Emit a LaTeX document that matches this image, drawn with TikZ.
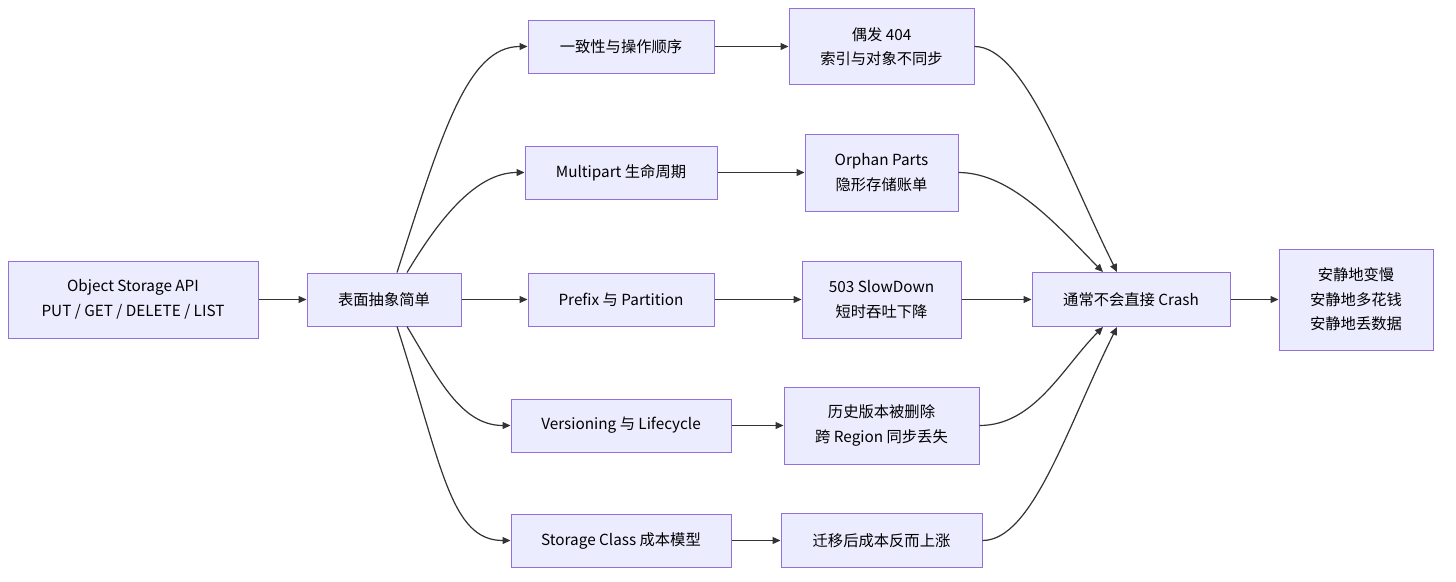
\documentclass[tikz,border=0pt]{standalone}
\usepackage{fontspec}
\setmainfont{Noto Sans CJK SC}
\usetikzlibrary{arrows.meta}
\definecolor{boxfill}{HTML}{ECECFF}
\definecolor{boxline}{HTML}{9370DB}
\definecolor{edgecol}{HTML}{333333}
\begin{document}
\begin{tikzpicture}[x=1pt,y=-1pt,
  box/.style={draw=boxline, fill=boxfill, line width=1pt, inner sep=0pt, align=center,
    font=\fontsize{15.3}{24.5}\selectfont, text=black},
  conn/.style={draw=edgecol, line width=1.2pt, -{Triangle[length=8pt,width=7pt]}}]
\fill[white] (0,0) rectangle (1456,581);
\useasboundingbox (0,0) rectangle (1456,581);

\node[box, minimum width=250pt, minimum height=77pt] (api) at (133,299.5) {Object Storage API\\PUT / GET / DELETE / LIST};
\node[box, minimum width=154pt, minimum height=53pt] (simple) at (384,299.5) {表面抽象简单};

\node[box, minimum width=186pt, minimum height=53pt] (cons) at (621,46.5) {一致性与操作顺序};
\node[box, minimum width=192pt, minimum height=53pt] (multi) at (621,172.5) {Multipart 生命周期};
\node[box, minimum width=186pt, minimum height=53pt] (prefix) at (621,299.5) {Prefix 与 Partition};
\node[box, minimum width=220pt, minimum height=53pt] (vers) at (621,425.5) {Versioning 与 Lifecycle};
\node[box, minimum width=220pt, minimum height=53pt] (sclass) at (621,540.5) {Storage Class 成本模型};

\node[box, minimum width=185pt, minimum height=76pt] (n404) at (881.5,46.5) {偶发 404\\索引与对象不同步};
\node[box, minimum width=153pt, minimum height=77pt] (orphan) at (881.5,172.5) {Orphan Parts\\隐形存储账单};
\node[box, minimum width=159pt, minimum height=77pt] (slow) at (881.5,299.5) {503 SlowDown\\短时吞吐下降};
\node[box, minimum width=195pt, minimum height=77pt] (hist) at (881.5,425.5) {历史版本被删除\\跨 Region 同步丢失};
\node[box, minimum width=201pt, minimum height=54pt] (cost) at (881.5,540.5) {迁移后成本反而上涨};

\node[box, minimum width=198pt, minimum height=54pt] (crash) at (1131,299.5) {通常不会直接 Crash};
\node[box, minimum width=154pt, minimum height=101pt] (quiet) at (1356,299.5) {安静地变慢\\安静地多花钱\\安静地丢数据};

\draw[conn] (api.east) -- (simple.west);
\draw[conn] ([xshift=13pt]simple.north) .. controls +(45,-140) and +(-60,0) .. (cons.west);
\draw[conn] ([xshift=23pt]simple.north) .. controls +(30,-50) and +(-50,0) .. (multi.west);
\draw[conn] (simple.east) -- (prefix.west);
\draw[conn] ([xshift=23pt]simple.south) .. controls +(30,50) and +(-50,0) .. (vers.west);
\draw[conn] ([xshift=13pt]simple.south) .. controls +(45,140) and +(-60,0) .. (sclass.west);

\draw[conn] (cons.east) -- (n404.west);
\draw[conn] (multi.east) -- (orphan.west);
\draw[conn] (prefix.east) -- (slow.west);
\draw[conn] (vers.east) -- (hist.west);
\draw[conn] (sclass.east) -- (cost.west);

\draw[conn] (n404.east) .. controls +(50,0) and +(-50,-100) .. ([xshift=-14pt]crash.north);
\draw[conn] (orphan.east) .. controls +(55,0) and +(-40,-40) .. ([xshift=-28pt]crash.north);
\draw[conn] (slow.east) -- (crash.west);
\draw[conn] (hist.east) .. controls +(55,0) and +(-40,40) .. ([xshift=-28pt]crash.south);
\draw[conn] (cost.east) .. controls +(50,0) and +(-50,100) .. ([xshift=-14pt]crash.south);

\draw[conn] (crash.east) -- (quiet.west);
\end{tikzpicture}
\end{document}
